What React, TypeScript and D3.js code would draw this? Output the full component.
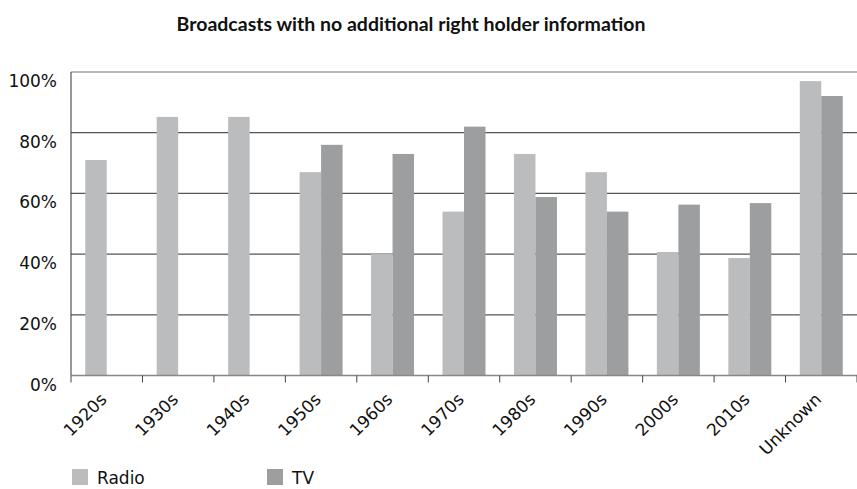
import React from 'react';
import * as d3 from 'd3';

const categories = ['1920s', '1930s', '1940s', '1950s', '1960s', '1970s', '1980s', '1990s', '2000s', '2010s', 'Unknown'];
const radio = [71, 85.2, 85.2, 67, 40, 54, 73, 67, 40.7, 38.7, 97];
const tv = [null, null, null, 76, 73, 82, 58.8, 54, 56.3, 56.8, 92.1];
const yTicks = [0, 20, 40, 60, 80, 100];
const seriesNames = ['Radio', 'TV'];
const seriesColors = ['#bbbcbe', '#9d9ea0'];

const W = 857;
const H = 489;
const left = 71;
const right = 857;
const top = 72;
const bottom = 375.5;

const App = () => {
  const x = d3.scaleBand<string>().domain(categories).range([left, right]).padding(0);
  const y = d3.scaleLinear().domain([0, 100]).range([bottom, top]);
  const groupW = 43;
  const x1 = d3.scaleBand<string>().domain(seriesNames).range([-groupW / 2, groupW / 2]).padding(0);

  const font = "'DejaVu Sans', sans-serif";

  return (
    <svg width={W} height={H} style={{ position: 'absolute', left: 0, top: 0, background: '#fff' }}>
      <text x={411} y={31} textAnchor="middle" fontFamily="Lato, sans-serif" fontWeight="bold" fontSize={19.5} fill="#111">
        Broadcasts with no additional right holder information
      </text>

      {/* gridlines */}
      {yTicks.filter(t => t > 0).map(t => (
        <line key={t} x1={left} x2={right} y1={y(t)} y2={y(t)} stroke={t === 100 ? '#777' : '#555'} strokeWidth={1.2} />
      ))}

      {/* bars */}
      {categories.map((c, i) => {
        const cx = (x(c) as number) + x.bandwidth() / 2;
        return (
          <g key={c}>
            {[radio[i], tv[i]].map((v, j) =>
              v == null ? null : (
                <rect
                  key={j}
                  x={cx + (x1(seriesNames[j]) as number)}
                  y={y(v)}
                  width={x1.bandwidth()}
                  height={y(0) - y(v)}
                  fill={seriesColors[j]}
                />
              )
            )}
          </g>
        );
      })}

      {/* axes */}
      <line x1={left} x2={left} y1={top} y2={bottom} stroke="#333" strokeWidth={1} />
      <line x1={left} x2={right} y1={bottom} y2={bottom} stroke="#888" strokeWidth={1.5} />
      {categories.concat(['']).map((c, i) => {
        const tx = left + i * x.bandwidth();
        return <line key={i} x1={tx} x2={tx} y1={bottom} y2={bottom + 7} stroke="#444" strokeWidth={1} />;
      })}

      {yTicks.map(t => (
        <text key={t} x={57} y={y(t) + 15} textAnchor="end" fontFamily={font} fontSize={17} fill="#111">
          {t}%
        </text>
      ))}

      {categories.map(c => {
        const cx = (x(c) as number) + x.bandwidth() / 2;
        return (
          <text
            key={c}
            transform={`translate(${cx + 1},${bottom + 25}) rotate(-45)`}
            textAnchor="end"
            fontFamily={font}
            fontSize={17}
            fill="#111"
          >
            {c}
          </text>
        );
      })}

      {/* legend */}
      {seriesNames.map((s, i) => (
        <g key={s} transform={`translate(${72 + i * 195},469)`}>
          <rect width={16} height={16} fill={seriesColors[i]} />
          <text x={25} y={15} fontFamily={font} fontSize={17} fill="#111">
            {s}
          </text>
        </g>
      ))}
    </svg>
  );
};

export default App;
